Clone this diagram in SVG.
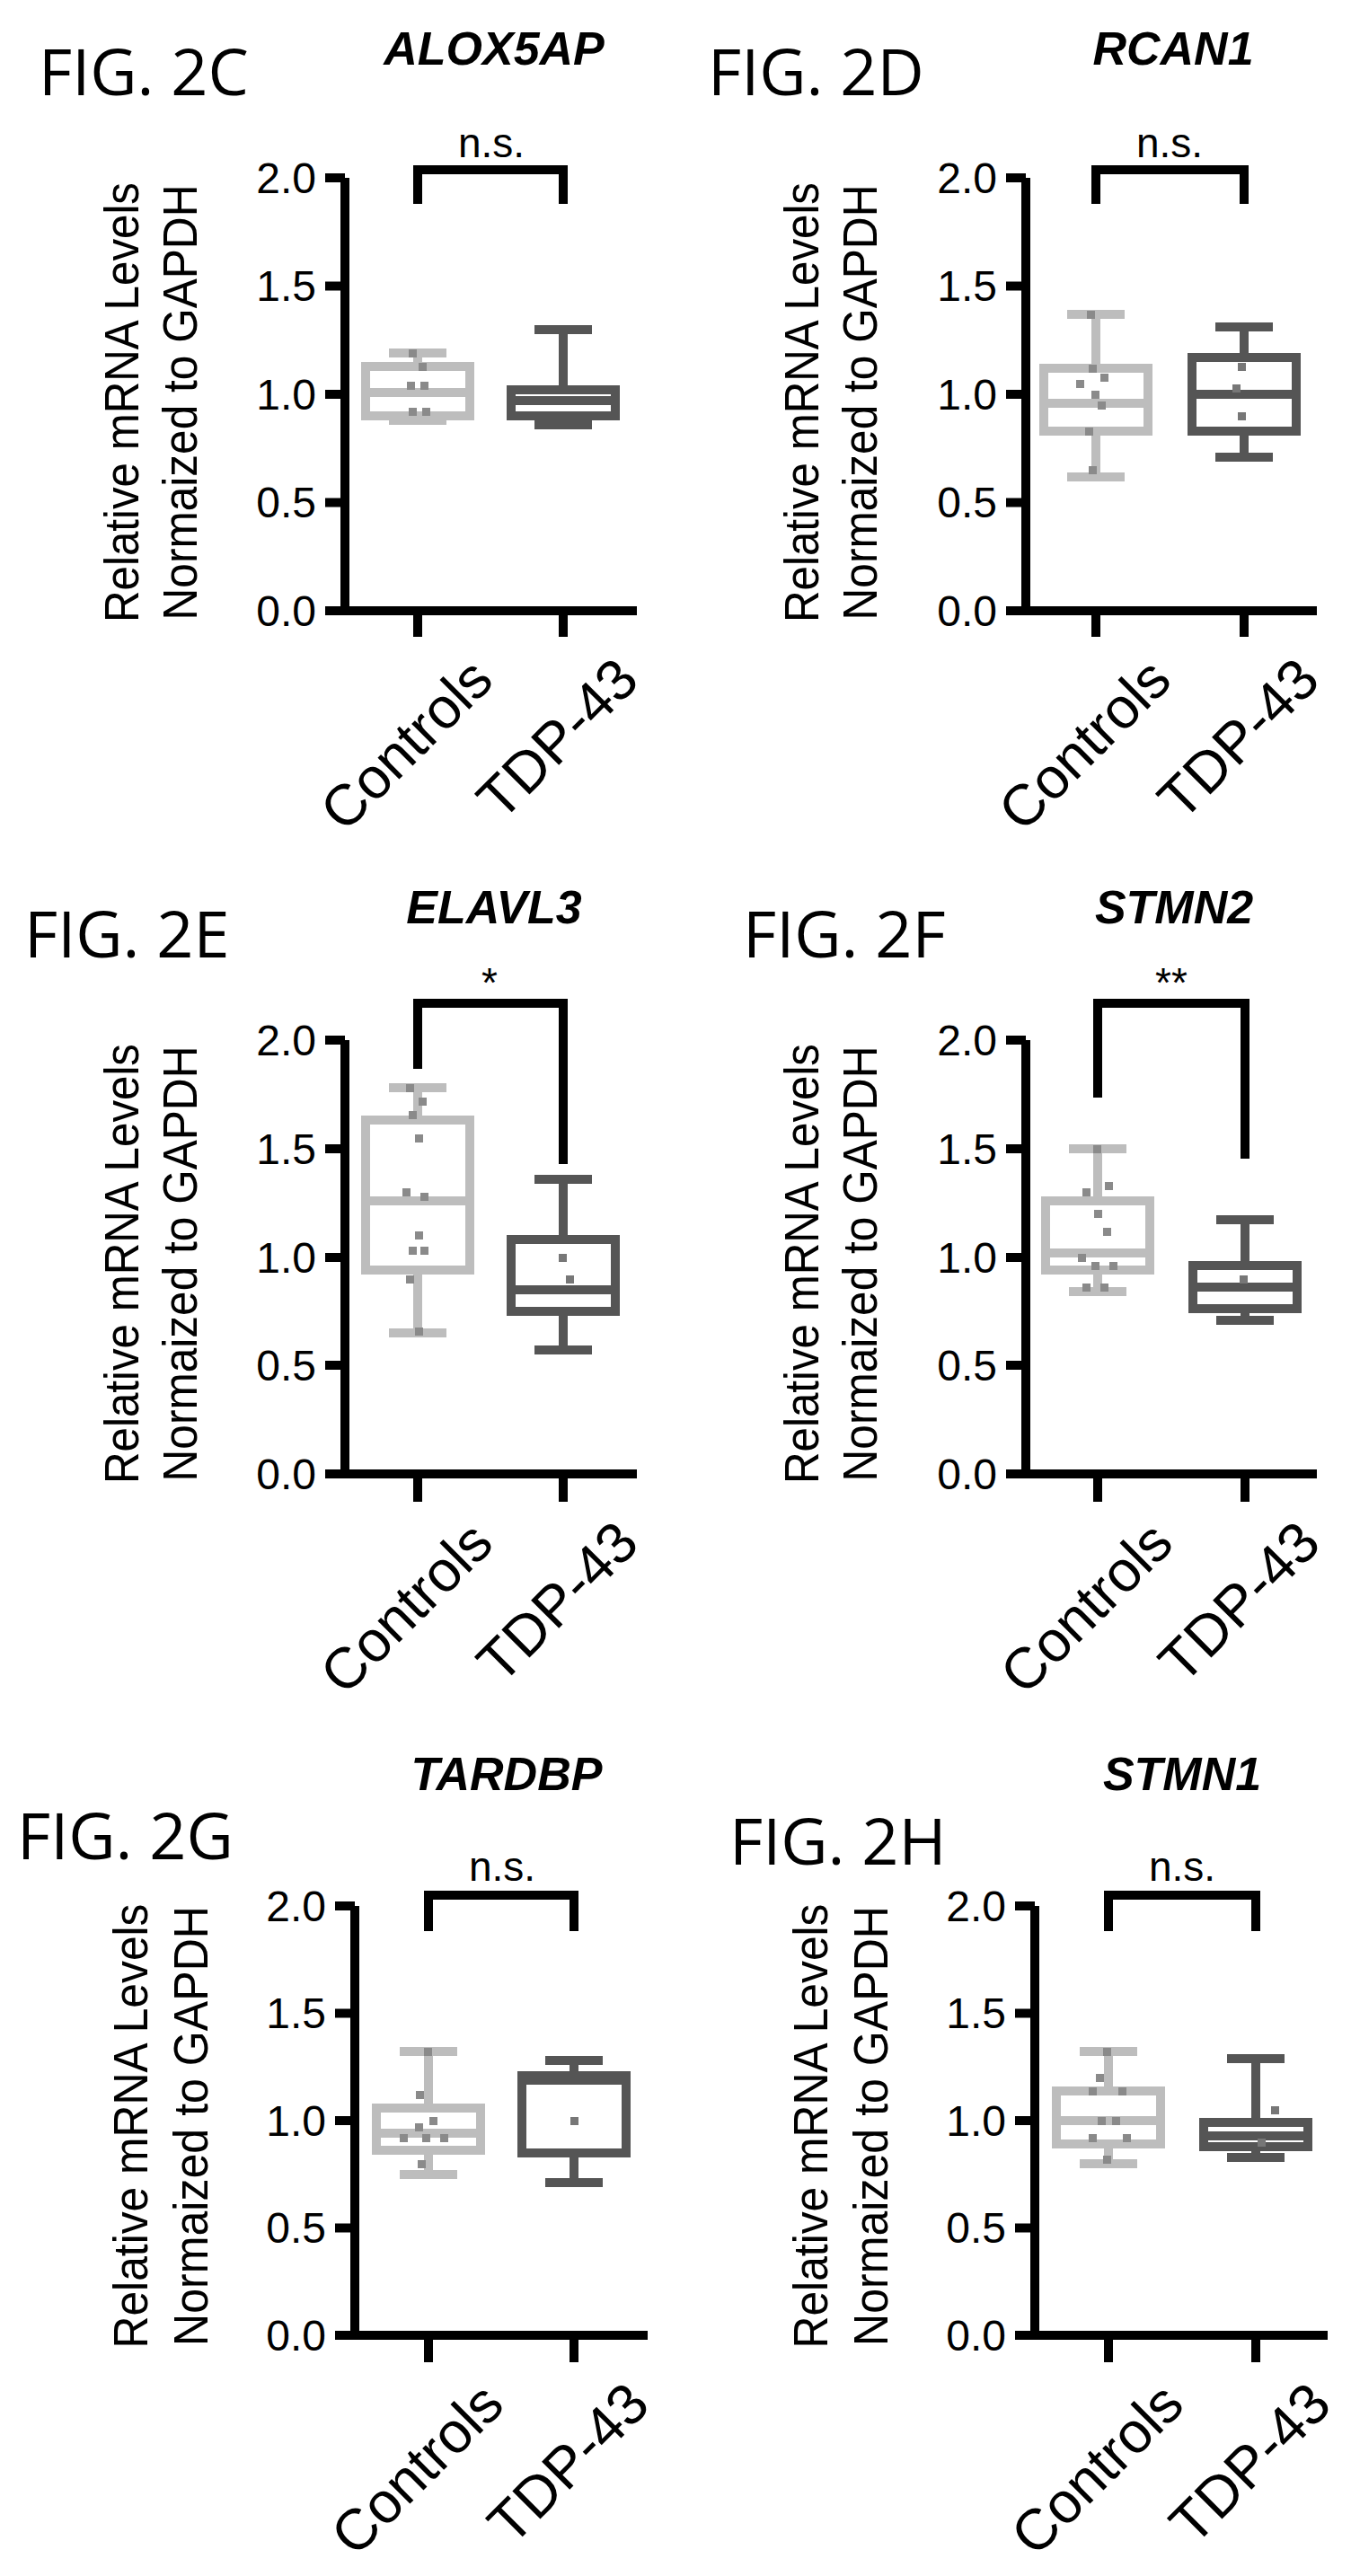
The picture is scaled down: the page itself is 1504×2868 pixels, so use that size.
<svg xmlns="http://www.w3.org/2000/svg" width="1504" height="2868" viewBox="0 0 1504 2868">
<style>
text{font-family:"Liberation Sans",Arial,sans-serif;fill:#000}
.fig{font-family:"Open Sans","Liberation Sans",sans-serif;font-size:72px}
.ttl{font-size:52px;font-weight:bold;font-style:italic;text-anchor:middle}
.tk{font-size:48px;text-anchor:end}
.yl{font-size:54px;text-anchor:middle}
.cat{font-size:64px;text-anchor:end}
.sig{font-size:46px;text-anchor:middle}
.ax{stroke:#000;stroke-width:10;fill:none}
.br{stroke:#000;stroke-width:10;fill:none}
.bc{stroke:#bdbdbd;stroke-width:10;fill:none}
.bt{stroke:#555;stroke-width:10;fill:none}
.dc{fill:#8a8a8a}
.dt{fill:#777}
</style>
<rect width="1504" height="2868" fill="#fff"/>

<g id="panelC">
<text class="fig" x="43" y="106">FIG. 2C</text>
<text class="ttl" x="550" y="72">ALOX5AP</text>
<text class="yl" transform="translate(154,448) rotate(-90)" textLength="490" lengthAdjust="spacingAndGlyphs">Relative mRNA Levels</text>
<text class="yl" transform="translate(219,448) rotate(-90)" textLength="485" lengthAdjust="spacingAndGlyphs">Normaized to GAPDH</text>
<path class="ax" d="M384,198V680M362,680H709M362,198H384M362,318.5H384M362,439H384M362,559.5H384M465,680V709M627,680V709"/>
<text class="tk" x="352" y="215">2.0</text><text class="tk" x="352" y="335">1.5</text><text class="tk" x="352" y="456">1.0</text><text class="tk" x="352" y="576">0.5</text><text class="tk" x="352" y="697">0.0</text>
<path class="br" d="M465,227V189H627V227"/>
<text class="sig" x="547" y="175">n.s.</text>
<path class="bc" d="M407,408H523V463H407ZM407,437H523M465,408V393M465,463V468M433,393H497M433,468H497"/>
<path class="bt" d="M569,434H685V463H569ZM569,446H685M627,434V367M627,463V473M595,367H659M595,473H659"/>
<g class="dc"><rect x="455" y="389" width="9" height="9"/><rect x="466" y="404" width="9" height="9"/><rect x="453" y="425" width="9" height="9"/><rect x="468" y="425" width="9" height="9"/><rect x="455" y="454" width="9" height="9"/><rect x="470" y="454" width="9" height="9"/></g>
<text class="cat" transform="translate(552,760) rotate(-45)">Controls</text>
<text class="cat" transform="translate(714,760) rotate(-45)">TDP-43</text>
</g>

<g id="panelD">
<text class="fig" x="788" y="106">FIG. 2D</text>
<text class="ttl" x="1306" y="72">RCAN1</text>
<text class="yl" transform="translate(911,448) rotate(-90)" textLength="490" lengthAdjust="spacingAndGlyphs">Relative mRNA Levels</text>
<text class="yl" transform="translate(976,448) rotate(-90)" textLength="485" lengthAdjust="spacingAndGlyphs">Normaized to GAPDH</text>
<path class="ax" d="M1142,198V680M1120,680H1466M1120,198H1142M1120,318.5H1142M1120,439H1142M1120,559.5H1142M1220,680V709M1385,680V709"/>
<text class="tk" x="1110" y="215">2.0</text><text class="tk" x="1110" y="335">1.5</text><text class="tk" x="1110" y="456">1.0</text><text class="tk" x="1110" y="576">0.5</text><text class="tk" x="1110" y="697">0.0</text>
<path class="br" d="M1220,227V189H1385V227"/>
<text class="sig" x="1302" y="175">n.s.</text>
<path class="bc" d="M1162,410H1278V480H1162ZM1162,449H1278M1220,410V350M1220,480V531M1188,350H1252M1188,531H1252"/>
<path class="bt" d="M1327,398H1443V480H1327ZM1327,439H1443M1385,398V364M1385,480V509M1353,364H1417M1353,509H1417"/>
<g class="dc"><rect x="1210" y="346" width="9" height="9"/><rect x="1212" y="406" width="9" height="9"/><rect x="1198" y="423" width="9" height="9"/><rect x="1225" y="416" width="9" height="9"/><rect x="1215" y="435" width="9" height="9"/><rect x="1222" y="447" width="9" height="9"/><rect x="1208" y="476" width="9" height="9"/><rect x="1212" y="519" width="9" height="9"/></g>
<g class="dt"><rect x="1378" y="404" width="9" height="9"/><rect x="1372" y="428" width="9" height="9"/><rect x="1378" y="459" width="9" height="9"/></g>
<text class="cat" transform="translate(1307,760) rotate(-45)">Controls</text>
<text class="cat" transform="translate(1472,760) rotate(-45)">TDP-43</text>
</g>

<g id="panelE">
<text class="fig" x="27" y="1066">FIG. 2E</text>
<text class="ttl" x="550" y="1028">ELAVL3</text>
<text class="yl" transform="translate(154,1407) rotate(-90)" textLength="490" lengthAdjust="spacingAndGlyphs">Relative mRNA Levels</text>
<text class="yl" transform="translate(219,1407) rotate(-90)" textLength="485" lengthAdjust="spacingAndGlyphs">Normaized to GAPDH</text>
<path class="ax" d="M384,1158V1641M362,1641H709M362,1158H384M362,1279H384M362,1400H384M362,1520H384M465,1641V1672M627,1641V1672"/>
<text class="tk" x="352" y="1175">2.0</text><text class="tk" x="352" y="1296">1.5</text><text class="tk" x="352" y="1417">1.0</text><text class="tk" x="352" y="1537">0.5</text><text class="tk" x="352" y="1658">0.0</text>
<path class="br" d="M465,1190V1117H627V1296"/>
<text class="sig" x="545" y="1110">*</text>
<path class="bc" d="M407,1247H523V1414H407ZM407,1337H523M465,1247V1211M465,1414V1484M433,1211H497M433,1484H497"/>
<path class="bt" d="M569,1380H685V1460H569ZM569,1436H685M627,1380V1313M627,1460V1503M595,1313H659M595,1503H659"/>
<g class="dc"><rect x="452" y="1207" width="9" height="9"/><rect x="466" y="1222" width="9" height="9"/><rect x="455" y="1237" width="9" height="9"/><rect x="462" y="1263" width="9" height="9"/><rect x="448" y="1323" width="9" height="9"/><rect x="468" y="1328" width="9" height="9"/><rect x="462" y="1371" width="9" height="9"/><rect x="455" y="1388" width="9" height="9"/><rect x="468" y="1388" width="9" height="9"/><rect x="452" y="1420" width="9" height="9"/><rect x="462" y="1478" width="9" height="9"/></g>
<g class="dt"><rect x="622" y="1396" width="9" height="9"/><rect x="630" y="1420" width="9" height="9"/></g>
<text class="cat" transform="translate(552,1721) rotate(-45)">Controls</text>
<text class="cat" transform="translate(714,1721) rotate(-45)">TDP-43</text>
</g>

<g id="panelF">
<text class="fig" x="827" y="1066">FIG. 2F</text>
<text class="ttl" x="1307" y="1028">STMN2</text>
<text class="yl" transform="translate(911,1407) rotate(-90)" textLength="490" lengthAdjust="spacingAndGlyphs">Relative mRNA Levels</text>
<text class="yl" transform="translate(976,1407) rotate(-90)" textLength="485" lengthAdjust="spacingAndGlyphs">Normaized to GAPDH</text>
<path class="ax" d="M1142,1158V1641M1120,1641H1466M1120,1158H1142M1120,1279H1142M1120,1400H1142M1120,1520H1142M1222,1641V1672M1386,1641V1672"/>
<text class="tk" x="1110" y="1175">2.0</text><text class="tk" x="1110" y="1296">1.5</text><text class="tk" x="1110" y="1417">1.0</text><text class="tk" x="1110" y="1537">0.5</text><text class="tk" x="1110" y="1658">0.0</text>
<path class="br" d="M1222,1222V1117H1386V1290"/>
<text class="sig" x="1304" y="1110">**</text>
<path class="bc" d="M1164,1337H1280V1414H1164ZM1164,1395H1280M1222,1337V1279M1222,1414V1438M1190,1279H1254M1190,1438H1254"/>
<path class="bt" d="M1328,1409H1444V1457H1328ZM1328,1433H1444M1386,1409V1358M1386,1457V1470M1354,1358H1418M1354,1470H1418"/>
<g class="dc"><rect x="1217" y="1275" width="9" height="9"/><rect x="1205" y="1323" width="9" height="9"/><rect x="1230" y="1316" width="9" height="9"/><rect x="1218" y="1347" width="9" height="9"/><rect x="1228" y="1367" width="9" height="9"/><rect x="1200" y="1396" width="9" height="9"/><rect x="1215" y="1405" width="9" height="9"/><rect x="1235" y="1405" width="9" height="9"/><rect x="1205" y="1429" width="9" height="9"/><rect x="1225" y="1429" width="9" height="9"/></g>
<g class="dt"><rect x="1380" y="1420" width="9" height="9"/></g>
<text class="cat" transform="translate(1309,1721) rotate(-45)">Controls</text>
<text class="cat" transform="translate(1473,1721) rotate(-45)">TDP-43</text>
</g>

<g id="panelG">
<text class="fig" x="19" y="2070">FIG. 2G</text>
<text class="ttl" x="564" y="1993">TARDBP</text>
<text class="yl" transform="translate(164,2367) rotate(-90)" textLength="495" lengthAdjust="spacingAndGlyphs">Relative mRNA Levels</text>
<text class="yl" transform="translate(231,2367) rotate(-90)" textLength="490" lengthAdjust="spacingAndGlyphs">Normaized to GAPDH</text>
<path class="ax" d="M395,2122V2600M373,2600H721M373,2122H395M373,2241.5H395M373,2361H395M373,2480.5H395M477,2600V2630M639,2600V2630"/>
<text class="tk" x="363" y="2139">2.0</text><text class="tk" x="363" y="2258">1.5</text><text class="tk" x="363" y="2378">1.0</text><text class="tk" x="363" y="2497">0.5</text><text class="tk" x="363" y="2617">0.0</text>
<path class="br" d="M477,2150V2110H639V2150"/>
<text class="sig" x="559" y="2094">n.s.</text>
<path class="bc" d="M419,2347H535V2394H419ZM419,2375H535M477,2347V2284M477,2394V2421M445,2284H509M445,2421H509"/>
<path class="bt" d="M581,2311H697V2397H581ZM581,2316H697M639,2311V2294M639,2397V2430M607,2294H671M607,2430H671"/>
<g class="dc"><rect x="472" y="2280" width="9" height="9"/><rect x="463" y="2328" width="9" height="9"/><rect x="478" y="2357" width="9" height="9"/><rect x="462" y="2364" width="9" height="9"/><rect x="445" y="2376" width="9" height="9"/><rect x="470" y="2376" width="9" height="9"/><rect x="490" y="2376" width="9" height="9"/><rect x="465" y="2405" width="9" height="9"/></g>
<g class="dt"><rect x="635" y="2357" width="9" height="9"/></g>
<text class="cat" transform="translate(564,2680) rotate(-45)">Controls</text>
<text class="cat" transform="translate(726,2680) rotate(-45)">TDP-43</text>
</g>

<g id="panelH">
<text class="fig" x="812" y="2076">FIG. 2H</text>
<text class="ttl" x="1316" y="1993">STMN1</text>
<text class="yl" transform="translate(921,2367) rotate(-90)" textLength="495" lengthAdjust="spacingAndGlyphs">Relative mRNA Levels</text>
<text class="yl" transform="translate(988,2367) rotate(-90)" textLength="490" lengthAdjust="spacingAndGlyphs">Normaized to GAPDH</text>
<path class="ax" d="M1152,2122V2600M1130,2600H1478M1130,2122H1152M1130,2241.5H1152M1130,2361H1152M1130,2480.5H1152M1234,2600V2630M1398,2600V2630"/>
<text class="tk" x="1120" y="2139">2.0</text><text class="tk" x="1120" y="2258">1.5</text><text class="tk" x="1120" y="2378">1.0</text><text class="tk" x="1120" y="2497">0.5</text><text class="tk" x="1120" y="2617">0.0</text>
<path class="br" d="M1234,2150V2110H1398V2150"/>
<text class="sig" x="1316" y="2094">n.s.</text>
<path class="bc" d="M1176,2328H1292V2387H1176ZM1176,2361H1292M1234,2328V2284M1234,2387V2409M1202,2284H1266M1202,2409H1266"/>
<path class="bt" d="M1340,2363H1456V2390H1340ZM1340,2378H1456M1398,2363V2292M1398,2390V2402M1366,2292H1430M1366,2402H1430"/>
<g class="dc"><rect x="1228" y="2280" width="9" height="9"/><rect x="1220" y="2309" width="9" height="9"/><rect x="1212" y="2324" width="9" height="9"/><rect x="1245" y="2324" width="9" height="9"/><rect x="1222" y="2357" width="9" height="9"/><rect x="1238" y="2357" width="9" height="9"/><rect x="1212" y="2376" width="9" height="9"/><rect x="1250" y="2376" width="9" height="9"/><rect x="1228" y="2400" width="9" height="9"/></g>
<g class="dt"><rect x="1415" y="2345" width="9" height="9"/><rect x="1400" y="2381" width="9" height="9"/></g>
<text class="cat" transform="translate(1321,2680) rotate(-45)">Controls</text>
<text class="cat" transform="translate(1485,2680) rotate(-45)">TDP-43</text>
</g>
</svg>
